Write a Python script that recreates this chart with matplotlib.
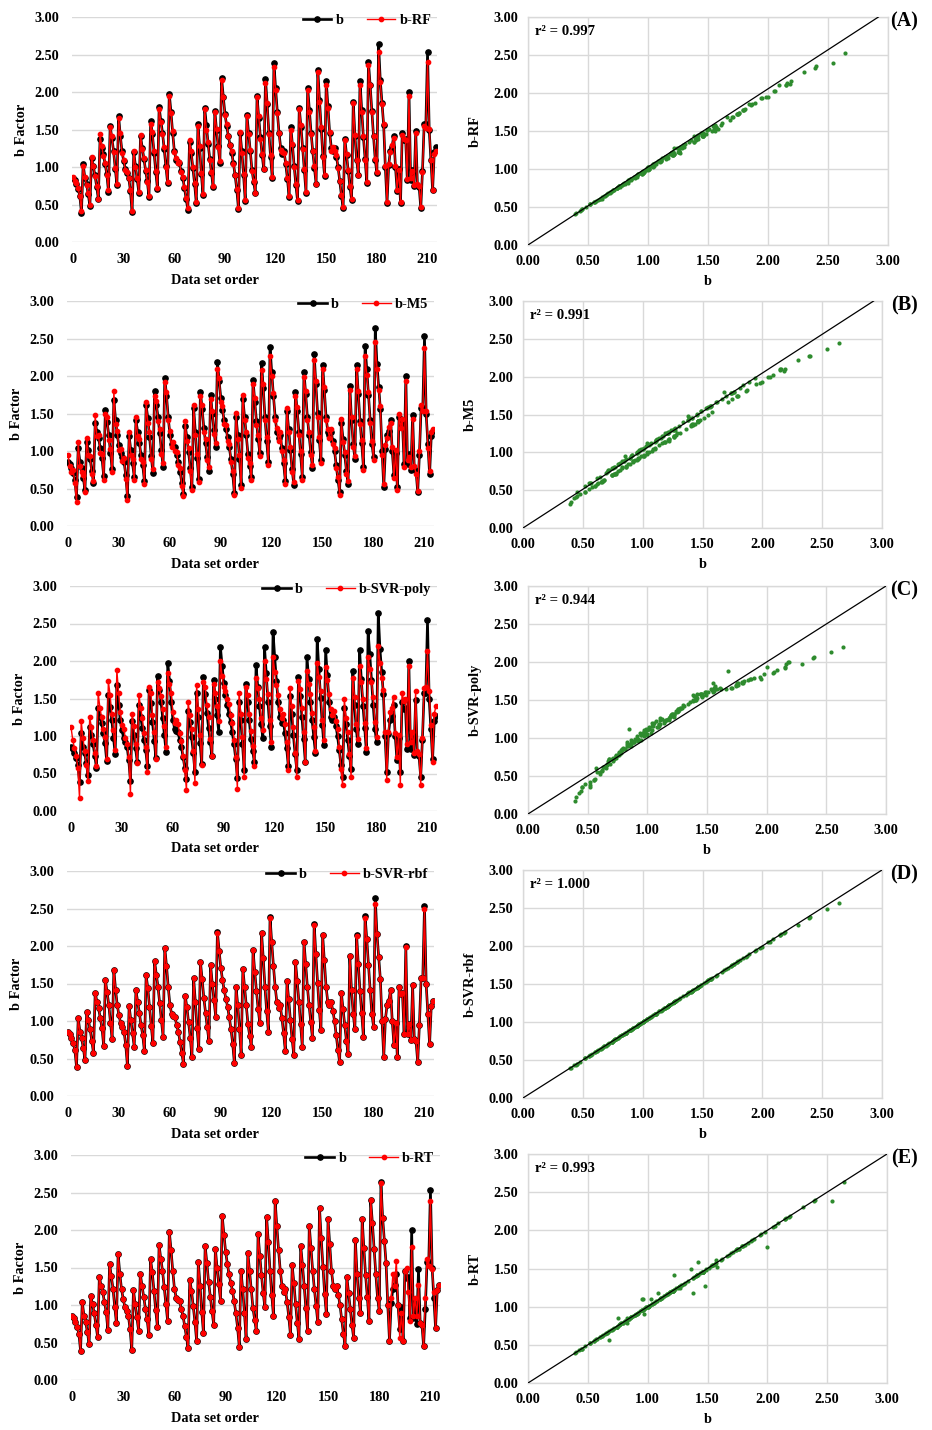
import matplotlib
matplotlib.use("Agg")
import matplotlib.pyplot as plt
from matplotlib.ticker import FormatStrFormatter, MultipleLocator

plt.rcParams["font.family"] = ["Liberation Serif", "DejaVu Serif"]
plt.rcParams["font.weight"] = "bold"

# measured b factor, in data set order
b = [
    0.85, 0.83, 0.78, 0.71, 0.62, 0.39, 1.04, 0.86, 0.77, 0.64,
    0.48, 1.12, 1.01, 0.89, 0.74, 0.57, 1.38, 1.26, 1.17, 1.04,
    0.91, 0.67, 1.55, 1.39, 1.22, 0.98, 0.76, 1.68, 1.42, 1.21,
    1.08, 0.97, 0.92, 0.86, 0.68, 0.40, 1.20, 1.01, 0.84, 0.66,
    1.41, 1.26, 1.11, 0.95, 0.81, 0.60, 1.61, 1.44, 1.19, 0.94,
    0.71, 1.80, 1.62, 1.46, 1.24, 1.01, 0.79, 1.98, 1.74, 1.46,
    1.22, 1.10, 1.07, 1.05, 0.95, 0.86, 0.72, 0.58, 0.43, 1.34,
    1.19, 0.99, 0.78, 0.52, 1.57, 1.26, 0.91, 0.63, 1.79, 1.56,
    1.31, 1.11, 0.92, 0.74, 1.75, 1.49, 1.28, 1.06, 2.19, 1.94,
    1.71, 1.55, 1.41, 1.30, 1.19, 1.05, 0.89, 0.70, 0.44, 1.45,
    1.21, 0.90, 0.55, 1.70, 1.46, 1.21, 0.96, 0.80, 0.65, 1.95,
    1.66, 1.40, 1.16, 0.97, 2.18, 1.84, 1.46, 1.14, 0.86, 2.39,
    2.05, 1.74, 1.46, 1.26, 1.18, 1.21, 1.04, 0.84, 0.60, 1.53,
    1.29, 1.01, 0.76, 0.55, 1.79, 1.54, 1.26, 0.96, 0.66, 2.06,
    1.76, 1.46, 1.21, 0.99, 0.77, 2.30, 1.89, 1.51, 1.15, 0.88,
    2.15, 1.81, 1.46, 1.26, 1.22, 1.25, 1.14, 1.00, 0.81, 0.62,
    0.45, 1.38, 1.16, 0.95, 0.74, 0.56, 1.87, 1.41, 1.10, 0.89,
    2.15, 1.76, 1.40, 1.11, 0.79, 2.40, 2.09, 1.75, 1.41, 1.10,
    0.92, 2.64, 2.16, 1.86, 1.56, 1.00, 0.52, 1.03, 1.22, 1.27,
    1.42, 1.00, 0.68, 0.97, 0.52, 1.45, 1.36, 1.38, 0.83, 2.00,
    0.83, 0.96, 0.75, 1.48, 0.76, 0.74, 0.45, 0.95, 1.57, 1.58,
    2.54, 1.49, 1.09, 0.69, 1.20, 1.27,
]

b_rf = [
    0.87, 0.82, 0.79, 0.72, 0.61, 0.41, 1.02, 0.87, 0.76, 0.65,
    0.50, 1.14, 1.02, 0.88, 0.75, 0.58, 1.44, 1.28, 1.15, 1.06,
    0.90, 0.69, 1.53, 1.41, 1.20, 0.99, 0.77, 1.65, 1.45, 1.19,
    1.10, 0.96, 0.93, 0.85, 0.69, 0.42, 1.22, 1.00, 0.85, 0.67,
    1.43, 1.24, 1.12, 0.96, 0.80, 0.61, 1.58, 1.47, 1.21, 0.95,
    0.72, 1.78, 1.60, 1.44, 1.27, 1.00, 0.80, 1.95, 1.72, 1.48,
    1.20, 1.12, 1.06, 1.07, 0.94, 0.87, 0.73, 0.59, 0.45, 1.36,
    1.21, 1.00, 0.79, 0.54, 1.55, 1.28, 0.92, 0.64, 1.77, 1.50,
    1.33, 1.10, 0.93, 0.75, 1.73, 1.51, 1.27, 1.08, 2.16, 1.93,
    1.69, 1.57, 1.42, 1.29, 1.21, 1.04, 0.90, 0.71, 0.46, 1.47,
    1.19, 0.91, 0.56, 1.68, 1.44, 1.23, 0.95, 0.81, 0.66, 1.93,
    1.68, 1.38, 1.17, 0.98, 2.12, 1.86, 1.44, 1.16, 0.87, 2.33,
    2.03, 1.72, 1.45, 1.23, 1.20, 1.19, 1.06, 0.85, 0.61, 1.50,
    1.31, 1.00, 0.77, 0.56, 1.78, 1.56, 1.24, 0.97, 0.67, 2.03,
    1.74, 1.44, 1.22, 1.01, 0.78, 2.27, 1.87, 1.53, 1.13, 0.89,
    2.10, 1.79, 1.47, 1.22, 1.27, 1.22, 1.16, 0.99, 0.82, 0.63,
    0.47, 1.36, 1.17, 0.96, 0.75, 0.57, 1.85, 1.43, 1.09, 0.90,
    2.10, 1.74, 1.42, 1.10, 0.80, 2.36, 2.10, 1.73, 1.42, 1.11,
    0.93, 2.53, 2.13, 1.84, 1.58, 1.02, 0.54, 1.04, 1.20, 1.29,
    1.39, 1.02, 0.70, 0.96, 0.54, 1.43, 1.38, 1.36, 0.84, 1.95,
    0.85, 0.95, 0.76, 1.46, 0.77, 0.75, 0.47, 0.94, 1.55, 1.52,
    2.40, 1.51, 1.10, 0.70, 1.18, 1.21,
]

b_m5 = [
    0.95, 0.80, 0.72, 0.75, 0.58, 0.32, 1.12, 0.80, 0.72, 0.68,
    0.45, 1.18, 0.95, 0.93, 0.70, 0.60, 1.48, 1.20, 1.22, 0.98,
    0.96, 0.62, 1.50, 1.45, 1.15, 1.03, 0.72, 1.80, 1.36, 1.27,
    1.02, 1.03, 0.87, 0.91, 0.63, 0.35, 1.26, 0.95, 0.89, 0.61,
    1.46, 1.20, 1.16, 0.90, 0.86, 0.56, 1.66, 1.38, 1.25, 0.90,
    0.76, 1.74, 1.67, 1.40, 1.30, 0.96, 0.84, 1.92, 1.79, 1.41,
    1.27, 1.05, 1.12, 1.00, 0.99, 0.81, 0.77, 0.54, 0.40, 1.40,
    1.14, 1.04, 0.73, 0.48, 1.61, 1.21, 0.96, 0.59, 1.74, 1.61,
    1.26, 1.16, 0.88, 0.79, 1.70, 1.54, 1.23, 1.11, 2.10, 1.98,
    1.66, 1.60, 1.36, 1.35, 1.14, 1.10, 0.85, 0.74, 0.41, 1.51,
    1.16, 0.95, 0.51, 1.75, 1.41, 1.26, 0.91, 0.84, 0.61, 1.90,
    1.71, 1.35, 1.21, 0.93, 2.08, 1.89, 1.41, 1.19, 0.82, 2.27,
    2.00, 1.78, 1.41, 1.31, 1.14, 1.26, 1.00, 0.88, 0.56, 1.58,
    1.25, 1.06, 0.72, 0.59, 1.74, 1.59, 1.21, 1.00, 0.62, 1.99,
    1.80, 1.41, 1.26, 0.95, 0.81, 2.22, 1.93, 1.46, 1.19, 0.84,
    2.09, 1.85, 1.41, 1.30, 1.18, 1.30, 1.10, 1.04, 0.77, 0.66,
    0.42, 1.43, 1.12, 0.99, 0.70, 0.60, 1.82, 1.45, 1.06, 0.93,
    2.10, 1.80, 1.36, 1.15, 0.75, 2.27, 2.02, 1.79, 1.37, 1.14,
    0.88, 2.45, 2.10, 1.81, 1.60, 0.95, 0.56, 1.08, 1.17, 1.32,
    1.37, 1.05, 0.64, 1.02, 0.48, 1.50, 1.31, 1.43, 0.79, 1.93,
    0.88, 0.92, 0.79, 1.43, 0.80, 0.70, 0.47, 1.00, 1.61, 1.53,
    2.37, 1.54, 1.04, 0.73, 1.25, 1.30,
]

b_svr_poly = [
    1.12, 0.95, 0.84, 0.74, 0.58, 0.17, 1.20, 0.98, 0.80, 0.62,
    0.40, 1.25, 1.12, 0.95, 0.78, 0.60, 1.57, 1.38, 1.25, 1.10,
    0.99, 0.70, 1.73, 1.55, 1.30, 1.08, 0.82, 1.88, 1.58, 1.32,
    1.15, 1.10, 0.98, 0.90, 0.72, 0.23, 1.30, 1.14, 0.90, 0.64,
    1.55, 1.38, 1.24, 1.04, 0.86, 0.52, 1.66, 1.58, 1.28, 1.06,
    0.70, 1.72, 1.64, 1.54, 1.36, 1.13, 0.85, 1.84, 1.70, 1.58,
    1.32, 1.18, 1.22, 1.16, 1.04, 0.94, 0.73, 0.55, 0.28, 1.45,
    1.28, 1.10, 0.80, 0.38, 1.68, 1.36, 1.02, 0.62, 1.72, 1.66,
    1.42, 1.26, 0.96, 0.74, 1.70, 1.57, 1.40, 1.20, 2.00, 1.80,
    1.66, 1.60, 1.50, 1.43, 1.28, 1.18, 0.95, 0.72, 0.30, 1.58,
    1.30, 0.99, 0.45, 1.66, 1.55, 1.30, 1.07, 0.87, 0.60, 1.78,
    1.64, 1.50, 1.24, 1.08, 2.00, 1.76, 1.56, 1.22, 0.92, 2.05,
    1.86, 1.68, 1.55, 1.36, 1.24, 1.30, 1.16, 0.92, 0.55, 1.64,
    1.40, 1.12, 0.78, 0.45, 1.74, 1.63, 1.37, 1.06, 0.66, 1.87,
    1.70, 1.56, 1.31, 1.12, 0.80, 1.98, 1.79, 1.60, 1.22, 0.95,
    1.92, 1.75, 1.56, 1.36, 1.28, 1.34, 1.20, 1.10, 0.86, 0.56,
    0.35, 1.50, 1.24, 1.05, 0.76, 0.46, 1.77, 1.52, 1.16, 0.96,
    1.93, 1.72, 1.50, 1.18, 0.84, 2.06, 1.90, 1.72, 1.52, 1.19,
    0.99, 2.20, 1.98, 1.78, 1.62, 1.05, 0.42, 1.06, 1.32, 1.38,
    1.52, 1.04, 0.72, 1.02, 0.35, 1.58, 1.47, 1.49, 0.90, 1.94,
    0.92, 1.05, 0.78, 1.60, 0.80, 0.76, 0.35, 0.97, 1.64, 1.65,
    2.13, 1.60, 1.15, 0.66, 1.30, 1.40,
]

b_svr_rbf = [
    0.85, 0.83, 0.77, 0.71, 0.62, 0.39, 1.04, 0.86, 0.77, 0.64,
    0.48, 1.12, 1.01, 0.89, 0.74, 0.57, 1.38, 1.26, 1.17, 1.04,
    0.91, 0.67, 1.55, 1.39, 1.22, 0.98, 0.76, 1.68, 1.42, 1.21,
    1.08, 0.97, 0.92, 0.86, 0.68, 0.40, 1.20, 1.01, 0.84, 0.66,
    1.41, 1.26, 1.11, 0.95, 0.81, 0.60, 1.61, 1.44, 1.19, 0.94,
    0.71, 1.80, 1.62, 1.46, 1.24, 1.01, 0.79, 1.98, 1.74, 1.46,
    1.22, 1.10, 1.07, 1.05, 0.95, 0.86, 0.72, 0.58, 0.43, 1.34,
    1.19, 0.99, 0.78, 0.52, 1.57, 1.26, 0.91, 0.63, 1.79, 1.56,
    1.31, 1.11, 0.92, 0.74, 1.75, 1.49, 1.28, 1.06, 2.18, 1.94,
    1.71, 1.55, 1.41, 1.30, 1.19, 1.05, 0.89, 0.70, 0.44, 1.45,
    1.21, 0.90, 0.55, 1.70, 1.46, 1.21, 0.96, 0.80, 0.65, 1.95,
    1.66, 1.40, 1.16, 0.97, 2.17, 1.84, 1.46, 1.14, 0.86, 2.37,
    2.05, 1.74, 1.46, 1.26, 1.18, 1.21, 1.04, 0.84, 0.60, 1.53,
    1.29, 1.01, 0.76, 0.55, 1.79, 1.54, 1.26, 0.96, 0.66, 2.05,
    1.76, 1.46, 1.21, 0.99, 0.77, 2.28, 1.89, 1.51, 1.15, 0.88,
    2.15, 1.81, 1.46, 1.26, 1.22, 1.25, 1.14, 1.00, 0.81, 0.62,
    0.45, 1.38, 1.16, 0.95, 0.74, 0.56, 1.87, 1.41, 1.10, 0.89,
    2.14, 1.76, 1.40, 1.11, 0.79, 2.38, 2.09, 1.75, 1.41, 1.10,
    0.92, 2.56, 2.16, 1.86, 1.56, 1.00, 0.52, 1.03, 1.22, 1.27,
    1.42, 1.00, 0.68, 0.97, 0.52, 1.45, 1.36, 1.38, 0.83, 1.99,
    0.83, 0.96, 0.75, 1.48, 0.76, 0.74, 0.45, 0.95, 1.57, 1.58,
    2.49, 1.49, 1.09, 0.69, 1.20, 1.27,
]

b_rt = [
    0.85, 0.83, 0.78, 0.71, 0.62, 0.39, 1.04, 0.86, 0.77, 0.64,
    0.48, 1.12, 1.01, 0.89, 0.74, 0.57, 1.38, 1.26, 1.17, 1.04,
    0.91, 0.67, 1.55, 1.39, 1.22, 0.98, 0.76, 1.68, 1.42, 1.21,
    1.08, 0.97, 0.92, 0.86, 0.68, 0.40, 1.20, 1.01, 0.84, 0.66,
    1.41, 1.26, 1.11, 0.95, 0.81, 0.60, 1.61, 1.44, 1.19, 0.94,
    0.71, 1.80, 1.62, 1.46, 1.24, 1.01, 0.79, 1.98, 1.74, 1.46,
    1.22, 1.10, 1.07, 1.05, 0.95, 0.86, 0.72, 0.58, 0.43, 1.34,
    1.19, 0.99, 0.78, 0.52, 1.57, 1.26, 0.91, 0.63, 1.79, 1.56,
    1.31, 1.11, 0.92, 0.74, 1.75, 1.49, 1.28, 1.06, 2.19, 1.94,
    1.71, 1.55, 1.41, 1.30, 1.19, 1.05, 0.89, 0.70, 0.44, 1.45,
    1.21, 0.90, 0.55, 1.70, 1.46, 1.21, 0.96, 0.80, 0.65, 1.95,
    1.66, 1.40, 1.16, 0.97, 2.18, 1.84, 1.46, 1.14, 0.86, 2.39,
    2.05, 1.74, 1.46, 1.26, 1.18, 1.21, 1.04, 0.84, 0.60, 1.53,
    1.29, 1.01, 0.76, 0.55, 1.79, 1.54, 1.26, 0.96, 0.66, 2.06,
    1.76, 1.46, 1.21, 0.99, 0.77, 2.30, 1.89, 1.51, 1.15, 0.88,
    2.15, 1.81, 1.46, 1.26, 1.22, 1.25, 1.14, 1.00, 0.81, 0.62,
    0.45, 1.38, 1.16, 0.95, 0.74, 0.56, 1.87, 1.41, 1.10, 0.89,
    2.15, 1.76, 1.40, 1.11, 0.79, 2.40, 2.09, 1.75, 1.41, 1.10,
    0.92, 2.63, 2.16, 1.86, 1.56, 1.00, 0.52, 1.10, 1.41, 1.25,
    1.59, 1.00, 0.56, 0.90, 0.52, 1.45, 1.50, 1.18, 0.79, 1.78,
    0.85, 1.10, 0.85, 1.27, 0.76, 0.74, 0.45, 1.10, 1.61, 1.52,
    2.39, 1.48, 1.18, 0.69, 1.20, 1.27,
]

models = ["RF", "M5", "SVR-poly", "SVR-rbf", "RT"]
r2_values = ["0.997", "0.991", "0.944", "1.000", "0.993"]
tags = ["(A)", "(B)", "(C)", "(D)", "(E)"]
x_ticks = [0, 30, 60, 90, 120, 150, 180, 210]
preds = [b_rf, b_m5, b_svr_poly, b_svr_rbf, b_rt]

W, H = 932, 1430
fig = plt.figure(figsize=(W / 100, H / 100), dpi=100)

# pixel boxes (left, top, right, bottom) of each plot area
left_boxes = [(72, 17, 437, 242), (67, 301, 434, 526), (70, 586, 437, 811),
              (67, 871, 434, 1096), (71, 1155, 440, 1380)]
right_boxes = [(528, 17, 888, 245), (523, 301, 882, 528), (528, 586, 886, 814),
               (523, 870, 882, 1098), (528, 1154, 887, 1383)]
line_end = [2.92, 2.93, 3.0, 3.0, 3.0]

grid_c = "#d9d9d9"
green = "#2e8b2e"
fs = 10.3
order = list(range(len(b)))


def add_ax(box):
    x0, y0, x1, y1 = box
    return fig.add_axes([x0 / W, 1 - y1 / H, (x1 - x0) / W, (y1 - y0) / H])


for i, name in enumerate(models):
    pred = preds[i]

    # time series panel
    ax = add_ax(left_boxes[i])
    ax.plot(order, b, "-o", color="black", lw=1.9, ms=3.8, label="b")
    ax.plot(order, pred, "-o", color="red", lw=1.0, ms=3.1, label="b-" + name)
    ax.set_xlim(-0.6, 215.6)
    ax.set_ylim(0, 3)
    ax.set_xticks(x_ticks)
    ax.yaxis.set_major_locator(MultipleLocator(0.5))
    ax.yaxis.set_major_formatter(FormatStrFormatter("%.2f"))
    ax.grid(axis="y", color=grid_c, lw=1.0)
    ax.set_axisbelow(True)
    for s in ax.spines.values():
        s.set_visible(False)
    ax.tick_params(length=0, labelsize=fs)
    ax.tick_params(axis="x", pad=8)
    ax.tick_params(axis="y", pad=9)
    w = left_boxes[i][2] - left_boxes[i][0]
    ax.set_ylabel("b Factor", fontsize=fs, fontweight="bold")
    ax.yaxis.set_label_coords(-44 / w, 0.5)
    ax.set_xlabel("Data set order", fontsize=fs, fontweight="bold")
    ax.xaxis.set_label_coords((215 - left_boxes[i][0]) / w, -0.14)
    ax.legend(loc="center right", bbox_to_anchor=(1.0, 0.985), ncol=2,
              frameon=False, fontsize=fs, borderaxespad=0, handlelength=2.0,
              handletextpad=0.3, columnspacing=1.6)

    # scatter panel
    ax2 = add_ax(right_boxes[i])
    ax2.scatter(b, pred, s=9, color=green, zorder=3, linewidths=0)
    ax2.plot([0, line_end[i]], [0, 3.0], color="black", lw=0.9, zorder=4)
    ax2.set_xlim(0, 3)
    ax2.set_ylim(0, 3)
    for a in (ax2.xaxis, ax2.yaxis):
        a.set_major_locator(MultipleLocator(0.5))
        a.set_major_formatter(FormatStrFormatter("%.2f"))
    ax2.grid(color=grid_c, lw=1.0)
    ax2.set_axisbelow(True)
    for s in ax2.spines.values():
        s.set_color(grid_c)
        s.set_linewidth(1.0)
    ax2.tick_params(length=0, labelsize=fs, pad=7)
    ax2.set_xlabel("b", fontsize=fs, fontweight="bold", labelpad=5)
    ax2.set_ylabel("b-" + name, fontsize=fs, fontweight="bold", labelpad=8)
    ax2.text(0.02, 0.965, "r² = " + r2_values[i], transform=ax2.transAxes,
             ha="left", va="top", fontsize=10.6, fontweight="bold")
    fig.text(904 / W, 1 - (right_boxes[i][1] + 4) / H, tags[i], ha="center",
             va="center", fontsize=14.5, fontweight="bold")

fig.savefig("out.png", dpi=100)
